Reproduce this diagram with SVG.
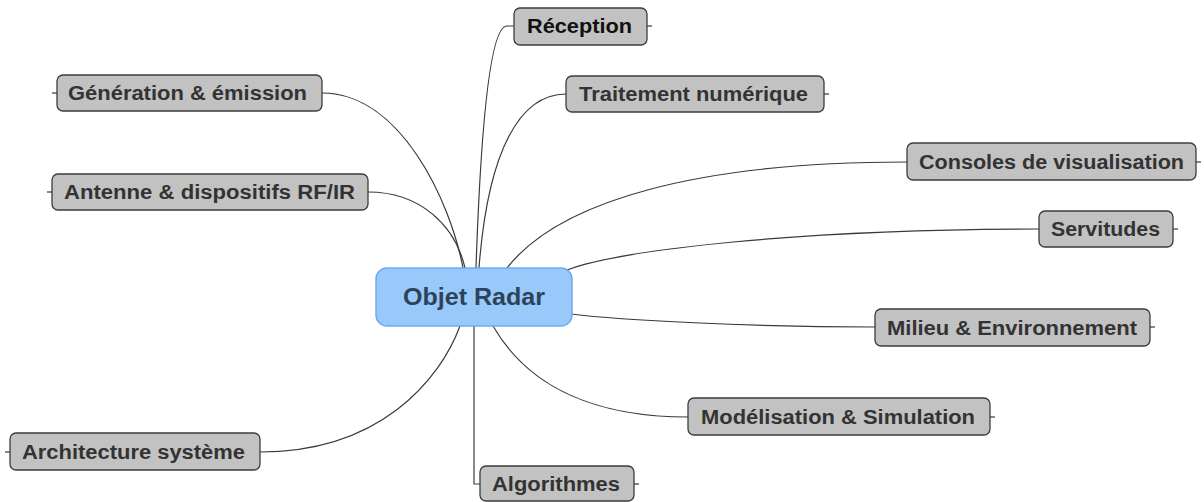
<svg xmlns="http://www.w3.org/2000/svg" width="1204" height="502" viewBox="0 0 1204 502">
<style>
.leaf{fill:#c2c2c2;stroke:#3c3c3c;stroke-width:1.3}
.lt{font-family:"Liberation Sans",Arial,sans-serif;font-weight:bold;font-size:20px;fill:#333;text-anchor:middle}
.c{fill:none;stroke:#3a3a3a;stroke-width:1.2}
</style>
<rect width="1204" height="502" fill="#fff"/>
<g id="connectors">
<path class="c" d="M322,93 C400,93 450,200 463,268"/>
<path class="c" d="M52,93 L57,93"/>
<path class="c" d="M368,192 C420,192 455,225 465,268"/>
<path class="c" d="M47,192 L52,192"/>
<path class="c" d="M514,26 L506,26 C488,30 480,150 476,268"/>
<path class="c" d="M647,26 L652,26"/>
<path class="c" d="M566,94 C520,94 488,150 479,268"/>
<path class="c" d="M824,94 L829,94"/>
<path class="c" d="M907,162 C700,162 560,200 507,268"/>
<path class="c" d="M1196,162 L1201,162"/>
<path class="c" d="M1039,229 C800,229 620,250 567,270"/>
<path class="c" d="M1173,229 L1178,229"/>
<path class="c" d="M875,327 C750,327 620,320 571,314"/>
<path class="c" d="M1150,327 L1155,327"/>
<path class="c" d="M688,417 C600,417 530,390 493,326"/>
<path class="c" d="M990,417 L995,417"/>
<path class="c" d="M260,452 C380,452 440,380 460,326"/>
<path class="c" d="M5,452 L10,452"/>
<path class="c" d="M474,326 L474,484 L480,484"/>
<path class="c" d="M634,484 L639,484"/>
</g>
<g id="center">
<rect x="376" y="268" width="196" height="58" rx="11" fill="#99c8fb" stroke="#72a9ea" stroke-width="1.5"/>
<text x="474" y="305" font-family="Liberation Sans,Arial,sans-serif" font-weight="bold" font-size="24" fill="#2d4458" text-anchor="middle" textLength="142" lengthAdjust="spacingAndGlyphs">Objet Radar</text>
</g>
<g id="n-reception"><rect class="leaf" x="514" y="8" width="133" height="37" rx="6"/><text class="lt" x="579.5" y="33" style="fill:#111" textLength="105" lengthAdjust="spacingAndGlyphs">Réception</text></g>
<g id="n-generation"><rect class="leaf" x="57" y="75" width="265" height="36" rx="6"/><text class="lt" x="187.5" y="100" textLength="239" lengthAdjust="spacingAndGlyphs">Génération &amp; émission</text></g>
<g id="n-traitement"><rect class="leaf" x="566" y="76" width="258" height="36" rx="6"/><text class="lt" x="693.5" y="101" textLength="229" lengthAdjust="spacingAndGlyphs">Traitement numérique</text></g>
<g id="n-consoles"><rect class="leaf" x="907" y="143" width="289" height="37" rx="6"/><text class="lt" x="1051.5" y="169" textLength="265" lengthAdjust="spacingAndGlyphs">Consoles de visualisation</text></g>
<g id="n-antenne"><rect class="leaf" x="52" y="174" width="316" height="36" rx="6"/><text class="lt" x="209.5" y="199" textLength="291" lengthAdjust="spacingAndGlyphs">Antenne &amp; dispositifs RF/IR</text></g>
<g id="n-servitudes"><rect class="leaf" x="1039" y="211" width="134" height="36" rx="6"/><text class="lt" x="1105.5" y="236" textLength="109" lengthAdjust="spacingAndGlyphs">Servitudes</text></g>
<g id="n-milieu"><rect class="leaf" x="875" y="309" width="275" height="37" rx="6"/><text class="lt" x="1012" y="335" textLength="250" lengthAdjust="spacingAndGlyphs">Milieu &amp; Environnement</text></g>
<g id="n-modelisation"><rect class="leaf" x="688" y="398" width="302" height="37" rx="6"/><text class="lt" x="838" y="424" textLength="274" lengthAdjust="spacingAndGlyphs">Modélisation &amp; Simulation</text></g>
<g id="n-architecture"><rect class="leaf" x="10" y="433" width="250" height="37" rx="6"/><text class="lt" x="133.5" y="459" textLength="223" lengthAdjust="spacingAndGlyphs">Architecture système</text></g>
<g id="n-algorithmes"><rect class="leaf" x="480" y="466" width="154" height="35" rx="6"/><text class="lt" x="556" y="491" textLength="128" lengthAdjust="spacingAndGlyphs">Algorithmes</text></g>
</svg>
